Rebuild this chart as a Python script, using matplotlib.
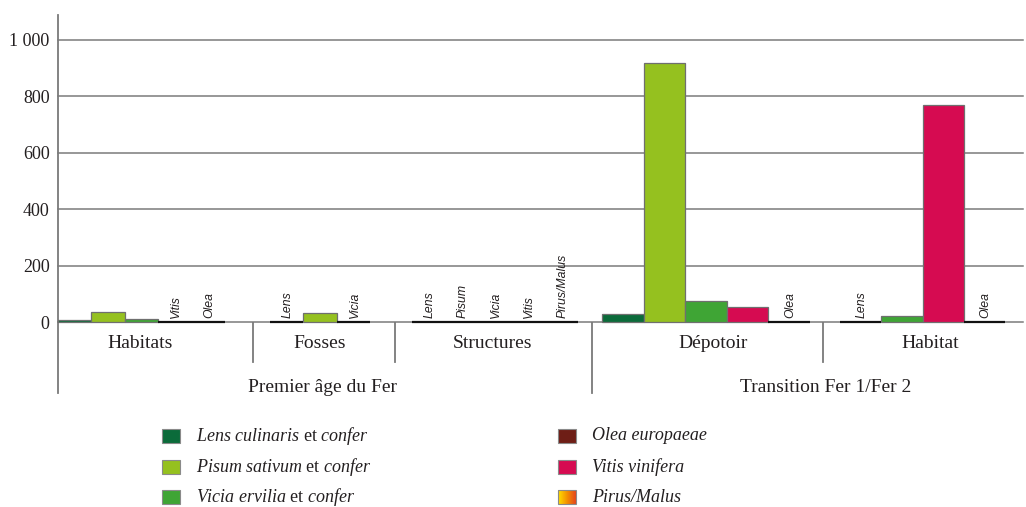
import numpy as np
import matplotlib
matplotlib.use('Agg')
from matplotlib import pyplot as plt
from matplotlib.colors import LinearSegmentedColormap
from matplotlib.patches import Rectangle

plt.rcParams['font.family'] = ['Liberation Serif', 'DejaVu Serif']
plt.rcParams['mathtext.fontset'] = 'custom'
plt.rcParams['mathtext.rm'] = 'Liberation Serif'
plt.rcParams['mathtext.it'] = 'Liberation Serif:italic'
plt.rcParams['text.color'] = '#231f20'
plt.rcParams['ytick.color'] = '#231f20'

# effectifs par contexte
groupes = ['Habitats', 'Fosses', 'Structures', 'Dépotoir', 'Habitat']
periodes = ['Premier âge du Fer', 'Transition Fer 1/Fer 2']

taxons_habitats = ['Lens', 'Pisum', 'Vicia', 'Vitis', 'Olea']
valeurs_habitats = [8, 36, 10, 0, 0]
taxons_fosses = ['Lens', 'Pisum', 'Vicia']
valeurs_fosses = [0, 32, 0]
taxons_structures = ['Lens', 'Pisum', 'Vicia', 'Vitis', 'Pirus/Malus']
valeurs_structures = [0, 0, 0, 0, 0]
taxons_depotoir = ['Lens', 'Pisum', 'Vicia', 'Vitis', 'Olea']
valeurs_depotoir = [28, 920, 76, 53, 0]
taxons_habitat = ['Lens', 'Vicia', 'Vitis', 'Olea']
valeurs_habitat = [0, 22, 771, 0]

graduations = [0, 200, 400, 600, 800, 1000]
etiquettes_y = ['0', '200', '400', '600', '800', '1 000']

legende = [
    ('Lens', r'$\mathit{Lens\ culinaris}$ et $\mathit{confer}$'),
    ('Pisum', r'$\mathit{Pisum\ sativum}$ et $\mathit{confer}$'),
    ('Vicia', r'$\mathit{Vicia\ ervilia}$ et $\mathit{confer}$'),
    ('Olea', 'Olea europaeae'),
    ('Vitis', 'Vitis vinifera'),
    ('Pirus/Malus', 'Pirus/Malus'),
]

couleurs = {
    'Lens': '#0b6b3a',
    'Pisum': '#95c11f',
    'Vicia': '#3fa535',
    'Olea': '#6e1e16',
    'Vitis': '#d60b51',
    'Pirus/Malus': '#f7a600',
}

# mise en page (en pixels)
W, H = 1026, 507
x0, x1 = 58, 1023
y_zero, y_top = 322.3, 15
px_par_unite = (322.3 - 40) / 1000
bords = [58, 253, 395, 592, 823, 1023]
largeurs = [33.4, 33.4, 33.2, 41.6, 41.3]
decalages = [0, 17, 17, 10, 17]
centres_groupes = [140, 320, 492, 713, 930]
centres_periodes = [322, 826]

fig = plt.figure(figsize=(W / 100, H / 100), dpi=100)
ax = fig.add_axes([x0 / W, (H - y_zero) / H, (x1 - x0) / W, (y_zero - y_top) / H])
ax.set_xlim(x0, x1)
ax.set_ylim(0, (y_zero - y_top) / px_par_unite)

for g in graduations:
    ax.axhline(g, color='#7a7a7a', lw=1.1, zorder=1, clip_on=False)

series = [
    (taxons_habitats, valeurs_habitats),
    (taxons_fosses, valeurs_fosses),
    (taxons_structures, valeurs_structures),
    (taxons_depotoir, valeurs_depotoir),
    (taxons_habitat, valeurs_habitat),
]

for k, (taxons, valeurs) in enumerate(series):
    w = largeurs[k]
    pos = [bords[k] + decalages[k] + i * w for i in range(len(taxons))]
    for p, t, v in zip(pos, taxons, valeurs):
        if v > 0:
            ax.bar(p, v, width=w, align='edge', color=couleurs[t],
                   edgecolor='#6f6f6f', linewidth=0.9, zorder=3, clip_on=False)
        else:
            ax.plot([p, p + w], [v, v], color='#111111', lw=1.6,
                    solid_capstyle='butt', zorder=4, clip_on=False)
            ax.annotate(t, (p + w / 2 + 1, v), xytext=(0, 3),
                        textcoords='offset points', rotation=90,
                        ha='center', va='bottom', fontsize=8.8,
                        family='Liberation Sans', style='italic')

ax.set_yticks(graduations)
ax.set_yticklabels(etiquettes_y, fontsize=13)
ax.tick_params(axis='y', length=0, pad=6)
for lab in ax.get_yticklabels():
    lab.set_verticalalignment('center_baseline')
ax.set_xticks([])
for s in ['top', 'right', 'bottom']:
    ax.spines[s].set_visible(False)
ax.spines['left'].set_color('#7a7a7a')
ax.spines['left'].set_linewidth(1.3)

# tableau des catégories et légende
bas = fig.add_axes([0, 0, 1, 1], zorder=-1)
bas.set_xlim(0, W)
bas.set_ylim(H, 0)
bas.axis('off')

for i, b in enumerate(bords[:-1]):
    fin = 393 if b in (58, 592) else 362
    bas.plot([b, b], [y_zero, fin], color='#7a7a7a', lw=1.3)

for c, nom in zip(centres_groupes, groupes):
    bas.text(c, 344, nom, ha='center', va='center', fontsize=14)
for c, nom in zip(centres_periodes, periodes):
    bas.text(c, 387, nom, ha='center', va='center', fontsize=14)

degrade = LinearSegmentedColormap.from_list('pm', ['#ffe000', '#f39200', '#e5461c'])
rangs = [436, 467, 497]
for i, (cle, texte) in enumerate(legende):
    cx = 162 if i < 3 else 558
    cy = rangs[i % 3]
    if cle == 'Pirus/Malus':
        bas.imshow(np.linspace(0, 1, 50).reshape(1, -1), cmap=degrade,
                   extent=(cx, cx + 18, cy + 7, cy - 7), aspect='auto', zorder=2)
        bas.add_patch(Rectangle((cx, cy - 7), 18, 14, fill=False,
                                edgecolor='#8a8a8a', lw=0.8, zorder=3))
    else:
        bas.add_patch(Rectangle((cx, cy - 7), 18, 14, facecolor=couleurs[cle],
                                edgecolor='#8a8a8a', lw=0.8))
    style = 'italic' if i >= 3 else 'normal'
    bas.text(cx + 34, cy, texte, ha='left', va='center', fontsize=13, style=style)

bas.set_xlim(0, W)
bas.set_ylim(H, 0)

fig.savefig('out.png', dpi=100)
